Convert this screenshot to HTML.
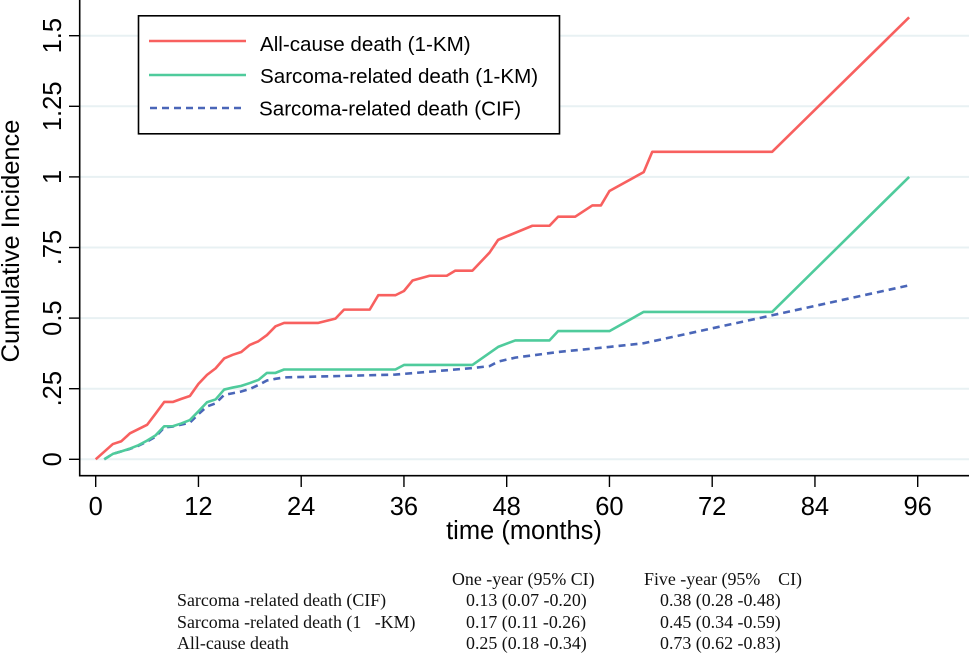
<!DOCTYPE html>
<html>
<head>
<meta charset="utf-8">
<title>Cumulative Incidence</title>
<style>
html,body{margin:0;padding:0;background:#fff;}
svg{display:block;}
text{font-family:"Liberation Sans",sans-serif;fill:#000;white-space:pre;}
.t{font-family:"Liberation Serif",serif;font-size:17.9px;fill:#111;}
.l{font-size:20.6px;}
</style>
</head>
<body>
<svg id="chart" width="969" height="653" viewBox="0 0 969 653" xmlns="http://www.w3.org/2000/svg">
<g id="grid"></g>
<g id="series"></g>
<g id="axes">
<line x1="79.7" y1="0" x2="79.7" y2="476.5" stroke="#000" stroke-width="1.6"/>
<line x1="79" y1="475.7" x2="969" y2="475.7" stroke="#000" stroke-width="1.6"/>
</g>
<text x="19" y="241" font-size="25.4" text-anchor="middle" transform="rotate(-90 19 241)">Cumulative Incidence</text>
<text x="524" y="539" font-size="25.5" text-anchor="middle">time (months)</text>
<g>
<rect x="138.5" y="15.8" width="421" height="118" fill="#fff" stroke="#000" stroke-width="1.6"/>
<line x1="149" y1="41" x2="246" y2="41" stroke="#f8605f" stroke-width="2.6"/>
<text class="l" x="260" y="51">All-cause death (1-KM)</text>
<line x1="149" y1="75" x2="246" y2="75" stroke="#4fcb9c" stroke-width="2.6"/>
<text class="l" x="260" y="83">Sarcoma-related death (1-KM)</text>
<line x1="150" y1="108" x2="246" y2="108" stroke="#4a66b8" stroke-width="2.6" stroke-dasharray="7 5"/>
<text class="l" x="259" y="115.500">Sarcoma-related death (CIF)</text>
</g>
<g>
<text class="t" x="452" y="585">One -year (95% CI)</text>
<text class="t" x="644" y="585">Five -year (95%    CI)</text>
<text class="t" x="177" y="606">Sarcoma -related death (CIF)</text>
<text class="t" x="466" y="606">0.13 (0.07 -0.20)</text>
<text class="t" x="660" y="606">0.38 (0.28 -0.48)</text>
<text class="t" x="177" y="628">Sarcoma -related death (1   -KM)</text>
<text class="t" x="466" y="628">0.17 (0.11 -0.26)</text>
<text class="t" x="660" y="628">0.45 (0.34 -0.59)</text>
<text class="t" x="177" y="649">All-cause death</text>
<text class="t" x="466" y="649">0.25 (0.18 -0.34)</text>
<text class="t" x="660" y="649">0.73 (0.62 -0.83)</text>
</g>
</svg>
<script>
const xTicks = [0, 12, 24, 36, 48, 60, 72, 84, 96];
const yTicks = [0, 0.25, 0.5, 0.75, 1, 1.25, 1.5];
const yTickLabels = ["0", ".25", "0.5", ".75", "1", "1.25", "1.5"];

const allCauseMonths = [0, 2, 3, 4, 5, 6, 7, 8, 9, 10, 11, 12, 13, 14, 15, 16, 17, 18, 19, 20, 21, 22, 26, 28, 29, 32, 33, 35, 36, 37, 39, 41, 42, 44, 46, 47, 51, 53, 54, 56, 58, 59, 60, 64, 65, 79, 95];
const allCauseValues = [0, 0.054, 0.064, 0.092, 0.107, 0.122, 0.162, 0.203, 0.203, 0.214, 0.224, 0.267, 0.299, 0.322, 0.357, 0.37, 0.38, 0.405, 0.418, 0.44, 0.471, 0.483, 0.483, 0.498, 0.53, 0.53, 0.581, 0.581, 0.596, 0.633, 0.65, 0.65, 0.668, 0.668, 0.732, 0.777, 0.827, 0.827, 0.859, 0.859, 0.899, 0.899, 0.95, 1.017, 1.089, 1.089, 1.565];

const sarcomaKmMonths = [1, 2, 3, 4, 5, 6, 7, 8, 9, 10, 11, 12, 13, 14, 15, 16, 17, 18, 19, 20, 21, 22, 35, 36, 44, 47, 49, 53, 54, 60, 64, 79, 95];
const sarcomaKmValues = [0, 0.019, 0.028, 0.038, 0.05, 0.066, 0.085, 0.117, 0.117, 0.127, 0.139, 0.17, 0.202, 0.212, 0.247, 0.254, 0.26, 0.27, 0.281, 0.306, 0.306, 0.318, 0.318, 0.334, 0.334, 0.398, 0.421, 0.421, 0.454, 0.454, 0.522, 0.522, 1.0];

const sarcomaCifMonths = [1, 2, 3, 4, 5, 6, 7, 8, 9, 10, 11, 12, 13, 14, 15, 16, 17, 18, 19, 20, 21, 22, 26, 35, 44, 46, 47, 49, 54, 60, 64, 79, 95];
const sarcomaCifValues = [0, 0.019, 0.028, 0.037, 0.048, 0.063, 0.08, 0.113, 0.116, 0.123, 0.13, 0.16, 0.187, 0.198, 0.228, 0.234, 0.24, 0.249, 0.263, 0.279, 0.285, 0.29, 0.293, 0.3, 0.323, 0.33, 0.346, 0.36, 0.38, 0.398, 0.411, 0.51, 0.616];

const NS = "http://www.w3.org/2000/svg";
function xScale(m) { return 95.7 + m * 8.5625; }
function yScale(v) { return 459.3 - v * 282.4; }

const gridGroup = document.getElementById("grid");
const axesGroup = document.getElementById("axes");
const seriesGroup = document.getElementById("series");

yTicks.forEach(function (v, i) {
  const y = yScale(v);
  const g = document.createElementNS(NS, "line");
  g.setAttribute("x1", 80);
  g.setAttribute("x2", 969);
  g.setAttribute("y1", y);
  g.setAttribute("y2", y);
  g.setAttribute("stroke", "#e8f1f3");
  g.setAttribute("stroke-width", 2);
  
  
  gridGroup.appendChild(g);

  const t = document.createElementNS(NS, "line");
  t.setAttribute("x1", 69);
  t.setAttribute("x2", 80);
  t.setAttribute("y1", y);
  t.setAttribute("y2", y);
  t.setAttribute("stroke", "#000");
  t.setAttribute("stroke-width", 1.4);
  
  
  axesGroup.appendChild(t);

  const l = document.createElementNS(NS, "text");
  l.setAttribute("x", 61);
  l.setAttribute("y", y);
  l.setAttribute("font-size", "25.5");
  l.setAttribute("text-anchor", "middle");
  l.setAttribute("transform", "rotate(-90 61 " + y + ")");
  l.textContent = yTickLabels[i];
  
  
  axesGroup.appendChild(l);
});

xTicks.forEach(function (m) {
  const x = xScale(m);
  const t = document.createElementNS(NS, "line");
  t.setAttribute("x1", x);
  t.setAttribute("x2", x);
  t.setAttribute("y1", 475);
  t.setAttribute("y2", 487);
  t.setAttribute("stroke", "#000");
  t.setAttribute("stroke-width", 1.4);
  
  
  axesGroup.appendChild(t);

  const l = document.createElementNS(NS, "text");
  l.setAttribute("x", x);
  l.setAttribute("y", 515);
  l.setAttribute("font-size", "25.5");
  l.setAttribute("text-anchor", "middle");
  l.textContent = String(m);
  
  
  axesGroup.appendChild(l);
});

function pathFor(months, values) {
  return months.map(function (m, i) {
    return (i ? "L" : "M") + xScale(m).toFixed(2) + " " + yScale(values[i]).toFixed(2);
  }).join("");
}

const cifPath = document.createElementNS(NS, "path");
cifPath.setAttribute("d", pathFor(sarcomaCifMonths, sarcomaCifValues));
cifPath.setAttribute("fill", "none");
cifPath.setAttribute("stroke", "#4a66b8");
cifPath.setAttribute("stroke-width", 2.6);
cifPath.setAttribute("stroke-dasharray", "7 5");


seriesGroup.appendChild(cifPath);

const kmPath = document.createElementNS(NS, "path");
kmPath.setAttribute("d", pathFor(sarcomaKmMonths, sarcomaKmValues));
kmPath.setAttribute("fill", "none");
kmPath.setAttribute("stroke", "#4fcb9c");
kmPath.setAttribute("stroke-width", 2.6);
kmPath.setAttribute("stroke-linejoin", "round");


seriesGroup.appendChild(kmPath);

const allPath = document.createElementNS(NS, "path");
allPath.setAttribute("d", pathFor(allCauseMonths, allCauseValues));
allPath.setAttribute("fill", "none");
allPath.setAttribute("stroke", "#f8605f");
allPath.setAttribute("stroke-width", 2.6);
allPath.setAttribute("stroke-linejoin", "round");


seriesGroup.appendChild(allPath);
</script>
</body>
</html>
